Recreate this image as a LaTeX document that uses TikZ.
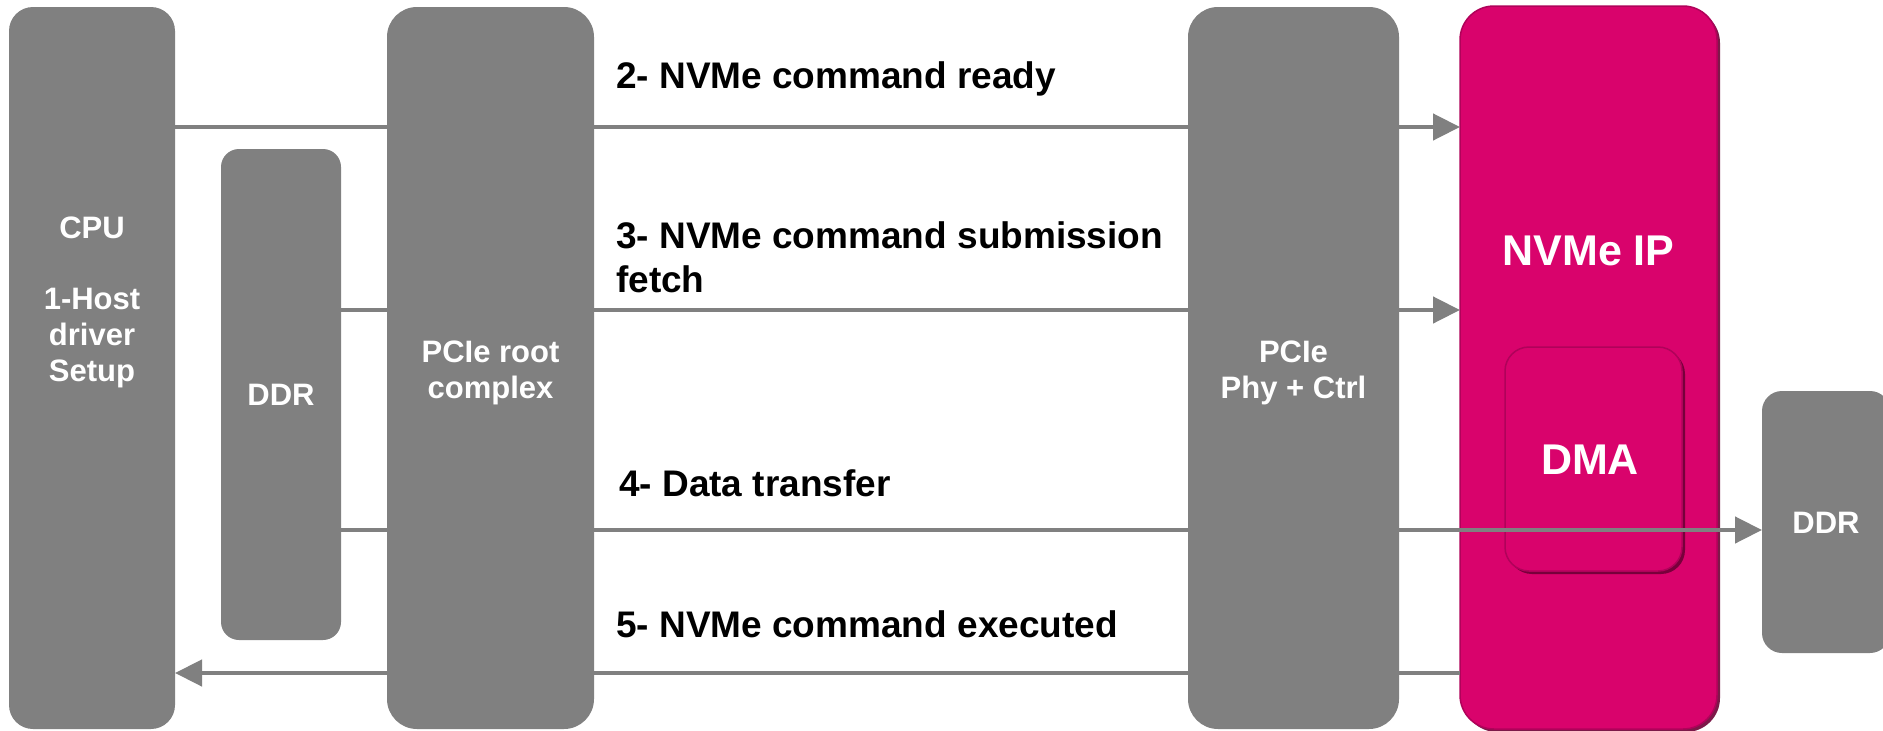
\documentclass[tikz,border=0pt]{standalone}
\usepackage{fontspec}
\setmainfont{Liberation Sans}
\usetikzlibrary{arrows.meta,shadows}

\definecolor{blockgray}{HTML}{808080}
\definecolor{ipmagenta}{HTML}{D9036C}
\definecolor{ipdark}{HTML}{6E0036}
\definecolor{iprim}{HTML}{B0025A}

\tikzset{
  block/.style={rectangle, fill=blockgray, inner sep=0pt, outer sep=0pt},
  ipblock/.style={rectangle, fill=ipmagenta, draw=iprim, line width=1.5pt,
    inner sep=0pt, outer sep=0pt,
    drop shadow={shadow xshift=3pt, shadow yshift=-3pt, fill=ipdark, opacity=0.9}},
  blocktext/.style={text=white, font=\fontsize{31}{36}\selectfont\bfseries, align=center},
  iptext/.style={text=white, font=\fontsize{43}{48}\selectfont\bfseries, align=center},
  steplabel/.style={text=black, font=\fontsize{37}{44}\selectfont\bfseries, align=left,
    inner sep=0pt},
  flow/.style={draw=blockgray, line width=4.5pt,
    -{Triangle[length=27pt, width=26pt]}},
}

\begin{document}
\begin{tikzpicture}[x=1pt, y=-1pt]
  \useasboundingbox (0,0) rectangle (1883,731);
  \clip (0,0) rectangle (1883,731);
  \fill[white] (0,0) rectangle (1883,731);

  % host side blocks
  \node[block, rounded corners=24pt, minimum width=166pt, minimum height=722pt] (cpu) at (92,368) {};
  \node[block, rounded corners=18pt, minimum width=120pt, minimum height=491pt] (ddrhost) at (281,394.5) {};
  \node[block, rounded corners=30pt, minimum width=207pt, minimum height=722pt] (root) at (490.5,368) {};

  % device side blocks
  \node[block, rounded corners=30pt, minimum width=211pt, minimum height=722pt] (phy) at (1293.5,368) {};
  \node[ipblock, rounded corners=34pt, minimum width=257pt, minimum height=723pt] (nvme) at (1588.5,367.5) {};
  \node[ipblock, rounded corners=24pt, minimum width=177pt, minimum height=224pt] (dma) at (1593.5,459) {};
  \node[block, rounded corners=20pt, minimum width=128pt, minimum height=262pt] (ddrdev) at (1826,522) {};

  % block captions
  \node[blocktext] (cputxt) at (92,302) {CPU\\[35pt]1-Host\\driver\\Setup};
  \node[blocktext] (ddrhosttxt) at (281,395) {DDR};
  \node[blocktext] (roottxt) at (490.5,373) {PCIe root\\complex};
  \node[blocktext] (phytxt) at (1293.5,373) {PCIe\\Phy + Ctrl};
  \node[iptext] (nvmetxt) at (1588.5,251) {NVMe IP};
  \node[iptext] (dmatxt) at (1590,460) {DMA};
  \node[blocktext] (ddrdevtxt) at (1826,523) {DDR};

  % transaction steps
  \draw[flow] (cpu.east |- 0,127) -- (nvme.west |- 0,127);
  \draw[flow] (ddrhost.east |- 0,310) -- (nvme.west |- 0,310);
  \draw[flow] (ddrhost.east |- 0,530) -- (ddrdev.west |- 0,530);
  \draw[flow] (nvme.west |- 0,673) -- (cpu.east |- 0,673);

  % step labels
  \node[steplabel, anchor=base west] (s2) at (616,88) {2- NVMe command ready};
  \node[steplabel, anchor=west] (s3) at (616,257) {3- NVMe command submission\\fetch};
  \node[steplabel, anchor=base west] (s4) at (619,496) {4- Data transfer};
  \node[steplabel, anchor=base west] (s5) at (616,637) {5- NVMe command executed};
\end{tikzpicture}
\end{document}
